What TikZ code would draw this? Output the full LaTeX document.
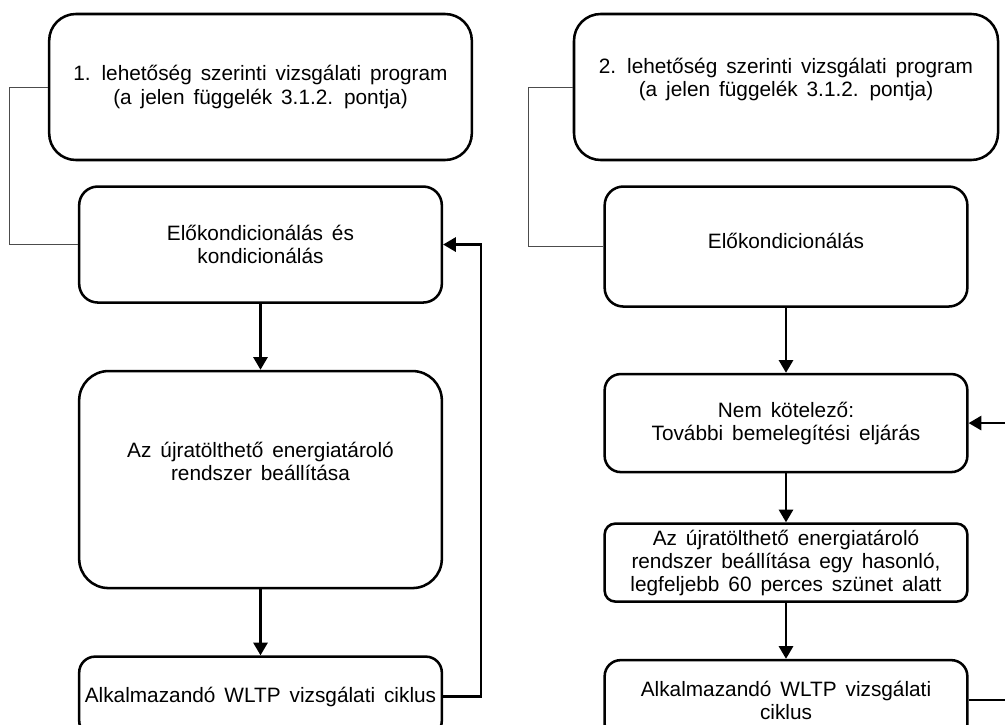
\documentclass[tikz,border=0pt]{standalone}
\usepackage{fontspec}
\setmainfont{Liberation Sans}[WordSpace=1.55]
\usetikzlibrary{arrows.meta,positioning}

\begin{document}
\begin{tikzpicture}[
  x=0.75pt,y=-0.75pt,
  font=\fontsize{15.6}{17.3}\selectfont,
  box/.style={draw,line width=1.9pt,align=center,inner sep=2pt,minimum width=272pt},
  fl/.style={-{Triangle[length=9.5pt,width=10.5pt]},line width=2pt},
  tie/.style={draw=black!70,line width=0.7pt},
]
\useasboundingbox (0,0) rectangle (1005,724);
% left column
\node[box,rounded corners=20pt,minimum width=317pt,minimum height=109.5pt] (prog1) at (260.5,87) {1. lehetőség szerinti vizsgálati program\\(a jelen függelék 3.1.2. pontja)};
\node[box,rounded corners=14pt,minimum height=87pt,below=18pt of prog1] (pre1) {Előkondicionálás és\\kondicionálás};
\node[box,rounded corners=22pt,minimum height=162.75pt,text depth=27pt,below=49.5pt of pre1] (ress1) {Az újratölthető energiatároló\\rendszer beállítása};
\node[box,rounded corners=12pt,minimum height=60pt,below=49.5pt of ress1] (wltp1) {Alkalmazandó WLTP vizsgálati ciklus};
% right column
\node[box,rounded corners=20pt,minimum width=318pt,minimum height=109.5pt,text depth=15pt] (prog2) at (786,87) {2. lehetőség szerinti vizsgálati program\\(a jelen függelék 3.1.2. pontja)};
\node[box,rounded corners=14pt,minimum height=90pt,text depth=9pt,below=18pt of prog2] (pre2) {Előkondicionálás};
\node[box,rounded corners=12pt,minimum height=73.5pt,below=48.75pt of pre2] (warm2) {Nem kötelező:\\További bemelegítési eljárás};
\node[box,rounded corners=8pt,minimum height=58.5pt,below=36.75pt of warm2] (ress2) {Az újratölthető energiatároló\\rendszer beállítása egy hasonló,\\legfeljebb 60 perces szünet alatt};
\node[box,rounded corners=12pt,minimum height=60pt,below=42pt of ress2] (wltp2) {Alkalmazandó WLTP vizsgálati\\ciklus};

\draw[tie] (prog1.west) -- ++(-38,0) |- (pre1.west);
\draw[tie] (prog2.west) -- ++(-44,0) |- (pre2.west);
\draw[fl] (pre1.south) -- (ress1.north);
\draw[fl] (ress1.south) -- (wltp1.north);
\draw[fl] (wltp1.east) -- ++(38,0) |- (pre1.east);
\draw[fl] (pre2.south) -- (warm2.north);
\draw[fl] (warm2.south) -- (ress2.north);
\draw[fl] (ress2.south) -- (wltp2.north);
\draw[fl] (wltp2.east) -- ++(45,0) |- (warm2.east);
\end{tikzpicture}
\end{document}
